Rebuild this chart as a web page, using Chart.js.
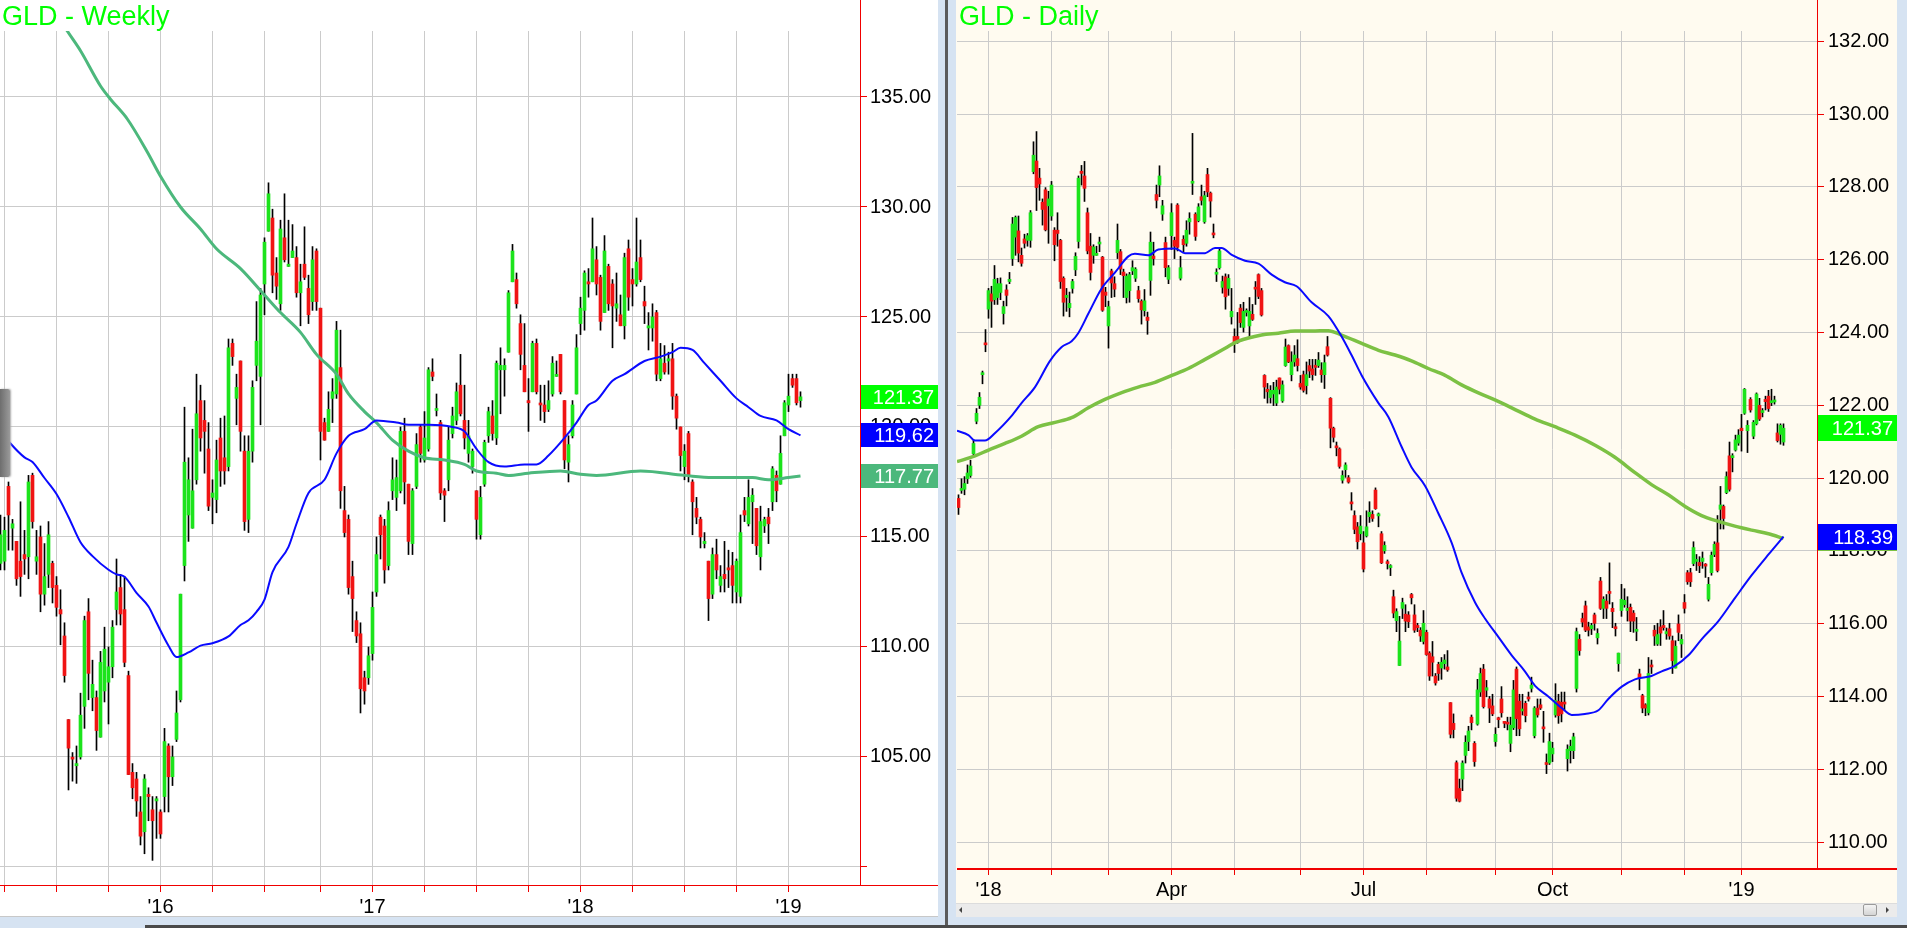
<!DOCTYPE html>
<html>
<head>
<meta charset="utf-8">
<script src="https://cdn.jsdelivr.net/npm/chart.js@4.4.1/dist/chart.umd.min.js"></script>
<style>
  html, body { margin: 0; padding: 0; }
  body { width: 1907px; height: 928px; position: relative; overflow: hidden; background: #d6e3f2; font-family: "Liberation Sans", Arial, sans-serif; }
  .pane { position: absolute; }
  #leftPane { left: 0; top: 0; width: 938px; height: 917px; background: #fff; border-bottom: 1px solid #c8c8c8; box-sizing: border-box; }
  #rightPane { left: 956px; top: 0; width: 941px; height: 903px; background: #fffbf0; }
  #divider { left: 945px; top: 0; width: 3px; height: 928px; background: #5b5b5b; }
  #bottomLine { left: 145px; top: 925px; width: 1762px; height: 3px; background: #4a4a4a; }
  canvas { position: absolute; }
  #weekly { left: 0; top: 0; }
  #daily { left: 955px; top: 0; }
  .title { position: absolute; top: 3px; font-size: 27px; line-height: 27px; color: #00ff00; white-space: nowrap; }
  #tab { left: 0; top: 389px; width: 10px; height: 88px; background: linear-gradient(90deg, #6e6e6e, #9a9a9a); border-radius: 0 2px 2px 0; box-shadow: 1px 0 2px #aaa; }
  #scroll { left: 956px; top: 903px; width: 941px; height: 14px; background: #ebebeb; border-top: 1px solid #dcdcdc; box-sizing: border-box; }
  #thumb { left: 1863px; top: 904px; width: 14px; height: 12px; background: linear-gradient(#f4f4f4, #d4d4d4); border: 1px solid #9a9a9a; box-sizing: border-box; border-radius: 2px; }
  .arrow { position: absolute; top: 907px; width: 0; height: 0; border-top: 3px solid transparent; border-bottom: 3px solid transparent; }
  #arrL { left: 959px; border-right: 3px solid #444; }
  #arrR { left: 1886px; border-left: 3px solid #444; }
</style>
</head>
<body>
<div id="leftPane" class="pane"></div>
<div id="rightPane" class="pane"></div>
<div id="divider" class="pane"></div>
<div id="bottomLine" class="pane"></div>
<div id="scroll" class="pane"></div>
<div id="thumb" class="pane"></div>
<div id="arrL" class="arrow"></div>
<div id="arrR" class="arrow"></div>
<canvas id="weekly" width="938" height="917"></canvas>
<canvas id="daily" width="942" height="903"></canvas>
<div id="tab" class="pane"></div>
<div class="title" style="left:2px">GLD - Weekly</div>
<div class="title" style="left:959px">GLD - Daily</div>
<script>
// ---------- weekly panel data: [open, high, low, close], one bar per week ----------
const weeklyOHLC = [
  [113.8,116.0,113.5,115.1],[113.9,115.9,113.5,115.3],[117.3,117.5,114.4,116.0],[115.4,115.8,114.4,115.6],[114.8,114.8,112.8,113.1],
  [113.9,116.6,112.3,113.2],[114.2,115.3,113.3,114.0],[114.1,117.8,113.1,117.5],[117.8,117.9,115.4,115.7],[113.9,115.3,113.3,114.1],
  [115.0,115.5,111.6,112.4],[112.4,114.7,111.9,113.2],[113.3,115.7,112.7,115.1],[113.8,113.9,112.0,112.7],[112.8,113.2,111.4,111.8],
  [111.7,112.6,110.1,111.5],[110.5,111.1,108.4,108.7],[106.7,106.7,103.5,105.4],[104.95,105.2,103.9,104.9],[104.6,105.5,103.8,104.7],
  [105.0,107.9,104.9,106.9],[107.3,111.4,106.3,111.2],[111.6,112.2,107.6,108.8],[107.7,109.4,107.1,108.3],[107.7,108.0,105.3,106.2],
  [105.9,109.8,105.9,109.3],[108.0,110.9,107.5,109.9],[108.4,110.0,106.5,109.1],[109.1,111.2,108.6,110.9],[111.7,114.0,111.0,112.5],
  [112.7,113.3,111.0,111.5],[111.7,113.2,109.1,109.3],[108.7,108.9,104.2,104.2],[104.3,104.7,103.1,103.6],[104.0,104.3,102.3,103.0],
  [102.5,103.2,101.0,101.4],[101.6,104.2,100.6,104.0],[103.3,103.6,102.1,103.2],[102.6,103.2,100.3,102.1],[103.0,103.2,101.3,103.1],
  [102.5,102.6,101.3,101.5],[103.2,106.3,102.5,105.7],[105.5,105.6,102.5,104.1],[104.1,105.5,103.7,105.0],[105.8,108.0,105.7,107.0],
  [107.6,112.4,107.5,112.4],[113.7,120.9,113.0,118.4],[116.0,118.6,114.8,117.6],[115.4,119.9,115.4,117.1],[117.6,122.4,117.4,120.6],
  [121.2,121.9,118.9,119.5],[120.3,121.2,117.9,119.8],[119.0,120.2,116.2,116.4],[116.8,117.6,115.6,117.0],[116.7,119.4,116.1,118.5],
  [119.5,120.4,117.3,118.0],[118.6,120.5,117.4,118.0],[118.2,124.0,118.0,123.6],[123.8,124.0,122.8,123.2],[121.3,122.4,120.1,121.8],
  [123.0,123.0,118.9,119.8],[118.9,119.6,115.3,115.7],[115.8,119.6,115.2,118.9],[118.9,122.1,118.4,121.8],[122.8,125.7,122.1,123.9],
  [122.3,126.3,120.1,126.0],[126.5,128.6,125.1,128.4],[128.9,131.1,128.9,130.6],[129.5,129.9,126.1,126.9],[127.0,127.7,125.8,126.4],
  [125.6,129.4,125.3,129.0],[128.6,130.6,127.5,127.6],[127.3,129.4,127.3,127.4],[127.7,129.2,127.7,128.0],[127.7,128.2,125.9,126.1],
  [126.1,127.4,124.6,126.6],[127.4,129.1,126.7,126.8],[126.3,126.9,124.7,125.1],[125.7,128.2,125.3,127.6],[128.0,128.1,125.3,125.7],
  [125.4,125.4,118.5,119.8],[120.2,120.4,119.4,119.4],[119.8,121.6,119.8,120.8],[121.3,122.2,120.2,121.6],[121.5,124.8,121.3,124.4],
  [122.7,124.4,116.3,117.1],[116.2,117.3,115.0,115.2],[115.8,116.0,112.4,112.7],[113.2,113.9,110.7,112.2],[111.2,111.6,110.2,110.5],
  [110.6,111.1,107.0,108.1],[108.6,108.9,107.4,108.0],[108.6,110.0,108.3,109.6],[109.7,112.5,109.4,111.8],[112.5,115.0,112.3,114.2],
  [115.9,116.0,114.0,115.1],[115.5,115.8,112.9,113.5],[113.7,116.6,113.5,116.2],[117.1,118.6,116.7,117.6],[116.8,118.5,116.2,117.7],
  [117.1,120.0,117.0,119.8],[119.8,120.4,116.5,117.5],[117.4,117.4,114.2,114.8],[114.7,117.2,114.2,117.1],[117.3,119.7,117.2,119.2],
  [120.0,120.1,118.4,118.8],[118.5,120.7,118.4,119.5],[119.0,122.7,118.9,122.6],[122.5,123.1,122.1,122.3],[120.75,121.5,120.5,120.8],
  [120.2,120.3,116.7,117.0],[117.1,117.2,115.7,116.9],[117.6,120.0,117.1,119.4],[119.7,120.9,119.5,120.5],[120.3,122.0,120.1,121.6],
  [121.9,123.3,120.5,120.6],[120.3,121.9,119.0,119.5],[118.8,120.3,118.4,119.6],[118.2,119.0,117.9,118.9],[117.1,117.1,114.9,115.8],
  [115.1,117.3,114.9,116.8],[117.4,119.4,117.3,119.3],[119.6,120.9,119.3,120.7],[120.5,121.2,119.4,119.7],[119.5,123.0,119.2,122.9],
  [122.6,123.6,120.6,122.8],[122.6,123.1,121.4,122.8],[123.4,126.2,123.4,126.1],[126.6,128.3,126.6,128.0],[126.7,127.0,125.4,125.6],
  [124.7,125.1,122.6,123.3],[122.8,124.7,121.6,121.6],[121.2,122.2,119.8,121.1],[121.6,123.9,121.6,123.8],[123.8,124.0,121.5,121.6],
  [121.05,121.9,120.3,121.0],[121.0,121.9,120.2,120.7],[120.8,122.1,120.7,121.2],[121.5,123.2,121.4,122.9],[122.3,123.0,122.3,122.35],
  [123.3,123.3,121.5,121.6],[121.2,121.2,118.1,118.5],[118.4,119.6,117.5,119.2],[119.6,121.2,119.5,121.0],[121.5,124.2,121.5,123.6],
  [124.7,125.9,124.2,125.4],[125.3,127.1,124.4,127.0],[126.6,127.2,125.9,126.5],[126.6,129.5,126.6,128.1],[127.6,128.2,126.0,126.5],
  [126.8,126.9,124.4,124.8],[125.2,128.7,125.2,128.0],[127.3,127.4,125.3,125.6],[126.5,126.7,123.6,125.5],[125.4,127.0,124.8,125.6],
  [125.1,126.0,124.6,124.6],[124.6,127.9,124.0,127.7],[128.1,128.5,125.3,125.9],[126.7,127.2,125.5,126.5],[126.5,129.5,126.4,127.5],
  [127.7,128.5,126.6,126.7],[125.7,126.4,124.7,125.5],[124.5,125.2,123.5,124.6],[124.5,125.6,123.9,125.0],[125.2,125.3,122.1,122.4],
  [122.2,123.8,122.1,123.1],[122.9,123.7,122.4,122.5],[123.0,123.4,122.4,123.1],[123.1,123.8,120.8,121.4],[121.4,121.5,119.9,120.4],
  [120.0,120.0,118.0,118.7],[118.2,119.2,117.6,118.9],[119.7,119.8,117.5,117.8],[117.5,117.6,115.1,116.6],[116.3,116.8,115.6,115.9],
  [115.8,115.9,114.5,115.0],[114.7,115.2,114.5,114.8],[113.9,113.9,111.2,112.2],[112.4,114.5,112.2,114.2],[114.2,114.9,113.1,113.5],
  [112.8,113.7,112.5,113.2],[113.3,114.8,112.5,113.1],[113.6,114.4,112.7,113.5],[113.7,114.3,112.0,112.8],[112.5,114.0,112.0,113.9],
  [112.3,116.0,112.0,115.2],[116.2,116.8,115.7,116.0],[115.6,117.6,115.5,116.8],[116.6,117.2,114.7,116.9],[116.3,116.3,114.2,114.6],
  [114.1,116.4,113.5,115.7],[115.5,115.9,115.2,115.8],[115.9,116.3,114.7,115.6],[116.6,118.2,116.2,118.1],[117.8,118.0,116.6,117.1],
  [117.4,119.6,117.4,118.8],[119.6,121.2,119.6,121.1],[121.0,122.4,120.7,121.4],[122.2,122.4,121.8,121.9],[122.2,122.4,121.0,121.1],
  [121.2,121.6,120.9,121.37]
];
// quarterly ticks (bar index) and year labels
const weeklyTickIdx  = [1, 14, 27, 40, 53, 66, 80, 93, 106, 119, 132, 145, 158, 171, 184, 197];
const weeklyTickText = ['', '', '', "'16", '', '', '', "'17", '', '', '', "'18", '', '', '', "'19"];
const weeklyPriceTicks = [100, 105, 110, 115, 120, 125, 130, 135];
// short moving average (blue)
const weeklyMaShortX = [0, 2.5, 6, 8, 11, 14, 17, 20, 23, 27, 29, 31, 34, 37, 39, 42, 44, 47, 50, 53, 57, 60, 62, 64, 66, 68, 72, 74, 77, 81,
  84, 87, 91, 94, 99, 102, 107, 113, 116, 119, 122, 126, 131, 134, 137, 141, 144, 147, 149, 153, 156, 161, 165, 168, 170, 173, 176, 180,
  184, 187, 190, 194, 197, 200];
const weeklyMaShortY = [119.83, 119.25, 118.62, 118.41, 117.68, 116.95, 115.91, 114.76, 114.13, 113.51, 113.30, 113.19, 112.46, 111.84,
  111.11, 110.06, 109.54, 109.75, 110.06, 110.17, 110.48, 111.0, 111.21, 111.6, 112.15, 113.4, 114.55, 115.6, 117.0, 117.6, 118.8, 119.6,
  119.9, 120.3, 120.2, 120.1, 120.1, 120.0, 119.8, 119.0, 118.4, 118.2, 118.3, 118.3, 118.7, 119.5, 120.2, 121.0, 121.2, 122.1, 122.4,
  123.0, 123.2, 123.4, 123.6, 123.5, 122.9, 122.1, 121.3, 120.9, 120.5, 120.3, 119.9, 119.62];
// long moving average (green)
const weeklyMaLongX = [14, 16.7, 20, 25, 27.5, 31.7, 36.7, 40, 45, 50, 54, 60, 66, 70, 75, 79, 84, 87, 91, 94, 98, 102, 106, 111, 116,
  119, 124, 127, 132, 140, 145, 149, 160, 171, 178, 188, 192, 197, 200];
const weeklyMaLongY = [138.8, 138.0, 137.1, 135.5, 134.9, 134.0, 132.5, 131.4, 130.0, 129.0, 128.1, 127.2, 126.0, 125.2, 124.3, 123.3,
  122.4, 121.5, 120.7, 120.2, 119.4, 118.9, 118.6, 118.5, 118.3, 118.0, 117.9, 117.8, 117.9, 118.0, 117.85, 117.8, 118.0, 117.8, 117.7,
  117.7, 117.6, 117.7, 117.77];

// ---------- daily panel data: [open, high, low, close], first bar is 10 sessions before Jan 2 2018 ----------
const dailyStart = -10;
const dailyOHLC = [
  [119.44,119.54,119.0,119.19],[119.66,119.98,119.58,119.7],[119.69,120.04,119.54,119.85],[119.98,120.36,119.85,120.14],[120.07,120.49,120.02,120.33],
  [120.67,121.05,120.61,120.95],[121.56,121.91,121.49,121.78],[122.0,122.35,121.91,122.22],[122.84,122.94,122.59,122.86],[123.7,124.08,123.47,123.66],
  [124.64,125.21,124.39,125.15],[125.06,125.27,124.14,124.86],[124.9,125.84,124.77,125.46],[124.96,125.49,124.77,125.34],[125.1,125.5,124.9,125.34],
  [124.52,124.86,124.23,124.71],[125.17,125.31,124.73,125.02],[125.4,125.65,125.34,125.46],[126.03,127.16,125.84,126.98],[126.62,127.2,126.12,127.16],
  [126.79,127.2,125.94,126.18],[126.12,126.32,125.82,125.9],[126.57,126.7,126.32,126.45],[126.53,126.72,126.37,126.66],[126.53,127.35,126.34,127.29],
  [128.42,129.24,128.36,128.87],[128.71,129.52,127.35,127.98],[128.24,128.51,127.63,128.08],[127.58,127.67,126.95,127.38],[127.92,127.98,126.79,126.82],
  [127.48,127.88,126.45,127.67],[127.2,128.15,127.08,128.05],[126.81,126.88,125.97,126.41],[126.81,127.29,126.37,126.72],[126.53,126.56,125.21,125.4],
  [125.49,125.53,124.45,124.83],[124.96,125.21,124.58,125.02],[124.68,125.11,124.43,124.8],[125.21,125.46,125.08,125.4],[125.72,126.19,125.56,126.09],
  [126.5,128.3,126.32,128.24],[128.43,128.59,128.05,128.37],[128.3,128.7,127.6,127.96],[127.29,127.42,126.16,126.24],[126.37,126.72,125.44,125.65],
  [126.12,126.41,125.9,126.35],[126.12,126.37,126.12,126.14],[126.43,126.62,126.22,126.45],[126.07,126.09,124.58,124.61],[125.11,125.24,124.71,125.02],
  [124.18,124.86,123.57,124.71],[125.69,125.74,124.96,125.36],[125.34,125.53,124.98,125.19],[126.19,126.98,126.03,126.53],[126.22,126.28,125.59,125.74],
  [125.66,125.74,124.96,125.56],[124.96,125.61,124.81,125.55],[125.15,125.65,124.83,125.59],[125.69,125.97,125.59,125.78],[125.49,125.78,125.4,125.74],
  [125.15,125.27,124.83,124.93],[124.86,124.9,124.23,124.62],[124.6,125.18,124.45,124.87],[124.42,124.56,123.95,124.33],[125.43,126.76,125.02,126.48],
  [126.1,126.48,125.85,126.03],[127.79,128.05,127.42,127.63],[128.05,128.58,127.73,128.3],[127.25,127.63,127.08,127.48],[126.47,126.62,125.53,125.78],
  [125.46,125.84,125.34,125.78],[126.66,127.54,126.28,127.29],[126.53,126.62,126.03,126.37],[127.5,127.54,126.24,126.34],[125.49,126.09,125.44,125.78],
  [126.56,126.66,126.22,126.41],[126.45,127.07,126.37,126.81],[127.04,127.29,126.7,127.13],[128.1,129.47,127.79,128.11],[127.25,127.29,126.53,126.64],
  [127.07,127.54,127.04,127.45],[127.73,128.05,127.5,127.63],[127.04,127.88,127.0,127.76],[128.34,128.51,127.73,127.86],[127.83,127.86,127.17,127.61],
  [126.7,126.98,126.6,126.68],[125.6,125.75,125.4,125.61],[125.78,126.32,125.74,126.24],[125.24,125.55,125.08,125.4],[125.53,125.61,124.64,124.98],
  [125.21,125.59,125.02,125.49],[124.43,125.21,124.23,124.58],[123.89,124.1,123.45,123.72],[123.89,124.55,123.7,123.72],[124.67,124.77,124.14,124.27],
  [124.14,124.83,124.01,124.58],[124.55,124.65,124.45,124.58],[124.18,124.96,123.89,124.58],[124.5,124.77,124.33,124.36],[125.2,125.4,124.77,125.19],
  [125.59,125.61,124.93,124.99],[125.15,125.21,124.45,124.48],[122.82,122.84,122.19,122.5],[122.44,122.6,122.06,122.37],[122.21,122.54,122.06,122.41],
  [122.31,122.63,121.99,122.41],[122.06,122.69,121.99,122.5],[122.75,122.75,122.31,122.44],[122.12,122.67,122.08,122.56],[123.09,123.82,123.07,123.6],
  [123.64,123.66,123.17,123.19],[122.84,123.47,122.67,123.19],[123.19,123.64,123.07,123.38],[123.28,123.8,122.94,123.09],[122.6,122.82,122.44,122.5],
  [122.84,122.94,122.36,122.41],[122.54,123.19,122.31,122.84],[123.09,123.26,122.76,122.94],[123.0,123.26,122.69,122.84],[123.1,123.26,122.82,123.04],
  [123.09,123.45,123.04,123.24],[122.97,123.17,122.63,122.84],[122.84,123.38,122.46,123.17],[123.61,123.89,123.35,123.38],[122.19,122.21,120.83,121.37],
  [121.37,121.4,120.99,121.12],[120.85,120.99,120.61,120.83],[120.8,120.83,120.27,120.32],[119.94,120.2,119.86,120.07],[120.23,120.42,120.02,120.36],
  [120.01,120.07,119.86,119.89],[119.3,119.6,119.12,119.29],[118.97,119.1,118.47,118.59],[118.66,118.78,118.05,118.25],[118.47,118.97,118.3,118.68],
  [118.22,118.53,117.42,117.5],[118.41,119.1,118.38,118.66],[118.94,119.35,118.78,119.06],[119.0,119.1,118.81,118.89],[119.67,119.73,119.14,119.16],
  [118.96,119.04,118.66,118.97],[118.47,118.53,117.65,117.67],[118.0,118.25,117.93,118.15],[117.67,117.75,117.5,117.65],[117.54,117.62,117.32,117.55],
  [116.74,116.92,116.16,116.29],[116.08,116.41,115.78,116.33],[114.85,116.2,114.85,115.52],[116.42,116.7,116.14,116.58],[116.26,116.52,115.78,116.07],
  [116.24,116.33,115.89,116.05],[116.8,116.83,116.54,116.71],[116.24,116.52,115.76,115.82],[115.95,116.01,115.78,115.89],[115.82,115.89,115.51,115.66],
  [115.51,116.36,115.44,116.01],[115.76,115.82,115.13,115.15],[115.19,115.23,114.44,114.56],[115.09,115.51,114.56,114.94],[114.56,114.63,114.31,114.37],
  [114.88,114.94,114.44,114.63],[114.78,115.07,114.47,114.94],[114.9,115.15,114.75,115.0],[114.81,115.26,114.69,114.73],[113.83,113.83,112.86,112.96],
  [113.26,113.52,112.86,113.09],[112.18,112.23,111.12,111.2],[111.47,111.73,111.1,111.12],[111.73,112.23,111.41,112.17],[112.38,112.92,112.17,112.74],
  [112.76,113.18,112.51,113.05],[113.43,113.49,113.08,113.28],[112.71,112.76,112.08,112.21],[113.24,114.47,113.21,114.18],[114.12,114.78,114.0,114.63],
  [114.75,114.88,113.68,113.72],[114.17,114.44,113.99,114.24],[113.93,114.0,113.28,113.68],[113.74,114.06,113.47,113.52],[112.76,113.14,112.63,112.96],
  [113.37,113.43,113.14,113.36],[113.93,114.27,113.43,113.55],[113.27,113.3,113.14,113.26],[113.25,113.43,113.08,113.24],[112.71,113.43,112.48,113.21],
  [113.14,114.44,113.09,114.18],[114.75,114.81,112.92,113.39],[113.87,114.06,112.92,113.11],[113.6,114.06,113.49,113.62],[113.81,113.87,113.3,113.47],
  [113.94,114.12,113.87,113.93],[114.22,114.53,114.12,114.31],[112.92,113.72,112.86,113.68],[113.68,113.93,113.43,113.49],[113.77,113.93,113.64,113.68],
  [113.12,113.59,112.74,113.11],[112.14,112.42,111.88,112.13],[112.17,112.99,112.13,112.76],[112.42,112.74,112.21,112.58],[113.49,114.35,113.43,113.89],
  [113.87,114.06,113.26,113.47],[113.84,114.12,113.3,113.52],[113.8,114.12,113.62,113.79],[112.29,112.67,111.95,112.55],[112.51,112.8,112.17,112.63],
  [112.51,112.99,112.29,112.89],[114.22,115.88,114.12,115.78],[115.57,115.7,115.13,115.26],[116.14,116.29,115.91,116.04],[116.49,116.62,115.78,115.82],
  [115.91,116.04,115.66,115.82],[115.86,116.01,115.7,115.95],[116.24,116.29,115.82,116.01],[115.61,115.86,115.44,115.73],[117.17,117.27,116.39,116.42],
  [116.42,116.74,116.14,116.67],[116.62,116.8,116.14,116.42],[116.84,117.67,116.54,116.83],[116.42,116.58,115.89,116.33],[115.87,116.01,115.66,115.86],
  [114.9,115.19,114.69,115.19],[116.36,117.08,116.2,116.67],[116.52,116.96,116.45,116.64],[116.36,116.74,116.07,116.42],[116.45,116.54,115.78,116.07],
  [116.29,116.36,115.76,116.07],[115.79,116.17,115.53,115.8],[114.62,114.75,114.18,114.52],[114.02,114.06,113.55,113.68],[113.77,113.8,113.47,113.68],
  [113.55,115.07,113.49,114.63],[114.82,115.0,114.63,114.81],[115.82,115.95,115.4,115.66],[115.44,116.01,115.4,115.7],[115.91,116.11,115.4,115.74],
  [115.95,116.36,115.82,115.89],[115.72,115.88,115.57,115.78],[115.86,116.01,115.57,115.66],[115.53,115.66,114.63,114.98],[114.78,115.53,114.78,115.38],
  [115.99,116.24,115.53,115.76],[115.44,115.7,115.07,115.57],[116.58,116.8,116.29,116.42],[117.4,117.46,117.08,117.15],[117.4,117.52,117.02,117.15],
  [117.65,118.25,117.59,118.09],[117.71,117.9,117.46,117.72],[117.68,117.84,117.4,117.59],[117.71,117.97,117.52,117.8],[117.59,117.65,117.27,117.58],
  [116.67,117.27,116.62,117.08],[117.4,117.97,117.33,117.88],[117.9,118.25,117.84,118.18],[118.22,118.97,117.42,117.46],[119.14,119.77,118.6,119.26],
  [119.22,119.26,118.6,118.89],[119.6,120.17,119.57,120.04],[120.61,120.99,119.64,119.69],[120.56,120.67,120.17,120.57],[120.77,121.18,120.74,121.05],
  [120.96,121.33,120.9,121.18],[121.37,121.75,120.74,121.3],[121.78,122.46,121.75,122.44],[121.3,121.58,120.7,121.45],[122.16,122.21,121.81,121.87],
  [121.15,121.58,121.08,121.53],[121.49,122.34,121.46,122.31],[122.0,122.19,121.58,121.62],[121.8,121.91,121.68,121.81],[122.16,122.25,121.87,122.1],
  [122.25,122.41,121.83,121.91],[122.07,122.44,121.99,122.12],[122.09,122.25,122.03,122.1],[121.24,121.49,120.99,121.03],[121.2,121.49,120.93,121.45],
  [120.99,121.49,120.9,121.37]
];
// month ticks (session index from Jan 2 2018) and their labels
const dailyTickIdx  = [0, 21, 40, 61, 82, 104, 125, 146, 169, 188, 211, 232, 251];
const dailyTickText = ["'18", '', '', 'Apr', '', '', 'Jul', '', '', 'Oct', '', '', "'19"];
const dailyPriceTicks = [110, 112, 114, 116, 118, 120, 122, 124, 126, 128, 130, 132];
// 50-day (blue)
const dailyMa50X = [-10.5, -6.7, -4.5, -1.2, 2.2, 7.7, 11, 15.5, 20.5, 24.4, 27.7, 29.9, 33.3, 37.7, 42.2, 46.6, 48.8, 53.3, 56.6, 62.2,
  65.5, 72.2, 75.5, 77.7, 81.1, 85.5, 90, 94.4, 98.8, 102.7, 107.7, 113.3, 117.7, 121, 124.4, 130, 133.3, 137.7, 141, 145.5, 149.9,
  154.4, 157.7, 162.2, 165.5, 170, 174.4, 178.8, 182.2, 186.6, 191.1, 194.4, 198.8, 203.3, 206.6, 211.1, 215.5, 221, 224.4, 228.8,
  233.3, 237.7, 243.3, 248.8, 254.4, 260, 265];
const dailyMa50Y = [121.3, 121.18, 121.03, 121.03, 121.24, 121.71, 122.06, 122.5, 123.22, 123.6, 123.76, 123.98, 124.52, 125.21, 125.65,
  126.09, 126.16, 126.12, 126.28, 126.31, 126.18, 126.18, 126.32, 126.32, 126.13, 125.97, 125.89, 125.59, 125.38, 125.27, 124.83,
  124.45, 123.89, 123.38, 122.82, 122.06, 121.68, 120.86, 120.3, 119.79, 119.04, 118.22, 117.4, 116.58, 116.14, 115.63, 115.13,
  114.69, 114.29, 114.0, 113.68, 113.49, 113.52, 113.62, 113.93, 114.27, 114.47, 114.56, 114.69, 114.84, 115.13, 115.57, 116.07,
  116.7, 117.33, 117.9, 118.39];
// 200-day (green)
const dailyMa200X = [-10.5, -4.5, 0, 5.5, 11, 16.6, 22.2, 27.7, 33.3, 38.8, 44.4, 49.9, 55.5, 61.1, 66.6, 72.2, 77.7, 83.3, 91, 96.6,
  102.2, 107.7, 113.3, 117.7, 124.4, 130, 135.5, 141, 146.6, 152.2, 157.7, 163.3, 168.8, 174.4, 182.2, 188.8, 195.5, 202.2, 208.8,
  215.5, 221, 226.6, 232.2, 237.7, 243.3, 248.8, 254.4, 260, 265];
const dailyMa200Y = [120.45, 120.61, 120.77, 120.95, 121.15, 121.41, 121.53, 121.66, 121.93, 122.16, 122.35, 122.5, 122.63, 122.82,
  123.01, 123.26, 123.51, 123.76, 123.93, 123.98, 124.04, 124.04, 124.05, 123.93, 123.7, 123.51, 123.38, 123.22, 123.01, 122.82,
  122.56, 122.34, 122.15, 121.93, 121.62, 121.41, 121.18, 120.9, 120.57, 120.15, 119.82, 119.54, 119.22, 118.97, 118.81, 118.68,
  118.57, 118.47, 118.34];

// ---------- styling ----------
const UP = '#1ce31c', DOWN = '#f01414', GRID = '#cbcbcb', AXIS_RED = '#f00000';
const FONT = '"Liberation Sans", Arial, sans-serif';
const last = arr => arr[arr.length - 1];

function candleSets(ohlc, start) {
  const bodies = ohlc.map((b, k) => ({ x: start + k, y: [b[0], b[3]] }));
  const wicks = ohlc.map((b, k) => ({ x: start + k, y: [b[2], b[1]] }));
  return [
    { type: 'bar', data: bodies, backgroundColor: ohlc.map(b => b[3] >= b[0] ? UP : DOWN),
      grouped: false, categoryPercentage: 1, barPercentage: 1, maxBarThickness: 3, minBarLength: 2, order: 1 },
    { type: 'bar', data: wicks, backgroundColor: '#000',
      grouped: false, categoryPercentage: 1, barPercentage: 1, maxBarThickness: 1, order: 2 }
  ];
}

function maLine(xs, ys, color, width) {
  return { type: 'line', data: xs.map((x, k) => ({ x: x, y: ys[k] })), borderColor: color, borderWidth: width,
    pointRadius: 0, cubicInterpolationMode: 'monotone', order: 0 };
}

// red frame lines and last-value tags on the price axis
const priceTags = {
  id: 'priceTags',
  afterDraw(chart, args, opts) {
    const { ctx, chartArea } = chart;
    const y = chart.scales.y;
    ctx.save();
    ctx.fillStyle = AXIS_RED;
    ctx.fillRect(chartArea.right, 0, 1, chartArea.bottom);
    ctx.fillRect(chartArea.left, chartArea.bottom, chart.width - chartArea.left, opts.lineW);
    ctx.font = '20px ' + FONT;
    ctx.textAlign = 'right';
    ctx.textBaseline = 'middle';
    opts.tags.forEach(t => {
      const py = Math.round(y.getPixelForValue(t.value));
      ctx.fillStyle = t.bg;
      ctx.fillRect(chartArea.right + 1, py - opts.h / 2, opts.w, opts.h);
      ctx.fillStyle = '#fff';
      ctx.fillText(t.value.toFixed(2), chartArea.right + opts.w - 3, py + 1);
    });
    ctx.restore();
  }
};

function makeChart(id, cfg) {
  return new Chart(document.getElementById(id), {
    data: { datasets: cfg.datasets },
    plugins: [priceTags],
    options: {
      responsive: false, animation: false, devicePixelRatio: 1,
      layout: { padding: { top: 31, left: cfg.padLeft, right: 0, bottom: 0 } },
      plugins: { legend: { display: false }, tooltip: { enabled: false }, priceTags: cfg.tags },
      scales: {
        x: {
          type: 'linear', min: cfg.xMin, max: cfg.xMax, offset: false,
          grid: { color: GRID, tickColor: AXIS_RED, tickLength: 7, offset: false },
          border: { display: false },
          afterBuildTicks: s => { s.ticks = cfg.tickIdx.map(v => ({ value: v })); },
          ticks: { autoSkip: false, maxRotation: 0, padding: 3, color: '#000', font: { family: FONT, size: 20 },
            callback: (v, k) => cfg.tickText[k] },
          afterFit: s => { s.height = cfg.xHeight; }
        },
        y: {
          type: 'linear', position: 'right', min: cfg.yMin, max: cfg.yMax, offset: false,
          grid: { color: GRID, tickColor: AXIS_RED, tickLength: 7 },
          border: { display: false },
          afterBuildTicks: s => { s.ticks = cfg.priceTicks.map(v => ({ value: v })); },
          ticks: { padding: cfg.yPad, color: '#000', font: { family: FONT, size: 20 },
            callback: v => (v === cfg.hideTick ? '' : v.toFixed(2)) },
          afterFit: s => { s.width = cfg.yWidth; }
        }
      }
    }
  });
}

makeChart('weekly', {
  datasets: [
    maLine(weeklyMaShortX, weeklyMaShortY, '#0a0aff', 2),
    maLine(weeklyMaLongX, weeklyMaLongY, '#4cb87c', 3),
    ...candleSets(weeklyOHLC, 0)
  ],
  padLeft: 0, xMin: -0.125, xMax: 214.875, yMin: 99.18, yMax: 138.0,
  tickIdx: weeklyTickIdx, tickText: weeklyTickText, priceTicks: weeklyPriceTicks, hideTick: 100,
  xHeight: 32, yWidth: 78, yPad: 3,
  tags: { w: 77, h: 24, lineW: 1, tags: [
    { value: last(weeklyOHLC)[3], bg: '#00ff00' },
    { value: last(weeklyMaShortY), bg: '#0000ff' },
    { value: last(weeklyMaLongY), bg: '#4cb87c' }
  ] }
});

makeChart('daily', {
  datasets: [
    maLine(dailyMa50X, dailyMa50Y, '#0a0aff', 2),
    maLine(dailyMa200X, dailyMa200Y, '#7cc144', 3.5),
    ...candleSets(dailyOHLC, dailyStart)
  ],
  padLeft: 2, xMin: -10.5, xMax: 276.17, yMin: 109.286, yMax: 132.283,
  tickIdx: dailyTickIdx, tickText: dailyTickText, priceTicks: dailyPriceTicks, hideTick: null,
  xHeight: 35, yWidth: 80, yPad: 4,
  tags: { w: 79, h: 26, lineW: 2, tags: [
    { value: last(dailyOHLC)[3], bg: '#00ff00' },
    { value: last(dailyMa200Y), bg: '#7cc144' },
    { value: last(dailyMa50Y), bg: '#0000ff' }
  ] }
});
</script>
</body>
</html>
